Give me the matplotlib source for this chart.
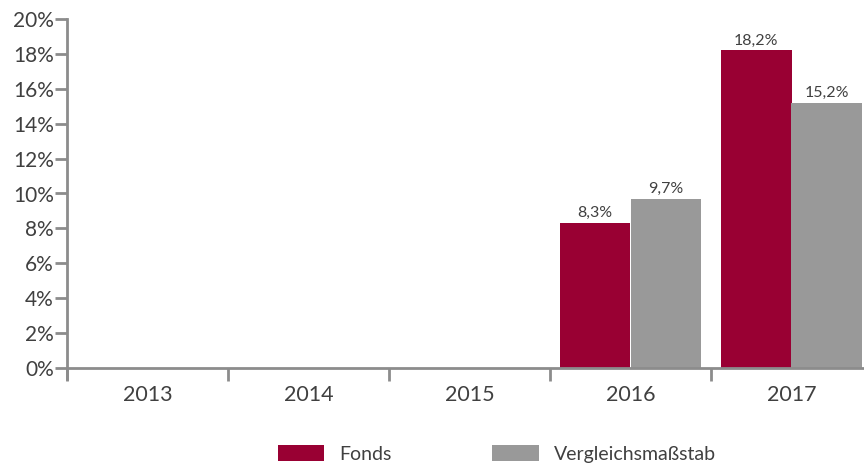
import numpy as np
import matplotlib
matplotlib.use("Agg")
import matplotlib.pyplot as plt
from matplotlib.patches import Patch

years = ["2013", "2014", "2015", "2016", "2017"]
fonds = [np.nan, np.nan, np.nan, 8.3, 18.2]
benchmark = [np.nan, np.nan, np.nan, 9.7, 15.2]
series_names = ["Fonds", "Vergleichsmaßstab"]
y_ticks = [0, 2, 4, 6, 8, 10, 12, 14, 16, 18, 20]

c_fonds = "#990033"
c_bench = "#999999"
c_text = "#404040"
c_axis = "#8c8c8c"

plt.rcParams["font.family"] = ["Lato", "DejaVu Sans"]

fig = plt.figure(figsize=(8.64, 4.69), dpi=100)
ax = fig.add_axes([67 / 864, 101 / 469, 805 / 864, 349 / 469])

x = np.arange(len(years))
w = 0.44
b1 = ax.bar(x - w / 2, fonds, width=w, color=c_fonds, linewidth=0,
            antialiased=False)
b2 = ax.bar(x + w / 2, benchmark, width=w, color=c_bench, linewidth=0,
            antialiased=False)

def fmt(v):
    return f"{v:.1f}%".replace(".", ",")

for bars, vals in ((b1, fonds), (b2, benchmark)):
    for rect, v in zip(bars, vals):
        if np.isnan(v):
            continue
        ax.annotate(fmt(v), (rect.get_x() + rect.get_width() / 2, v),
                    xytext=(0, 2), textcoords="offset points",
                    ha="center", va="bottom", fontsize=11.5, color=c_text)

ax.set_xlim(-0.5, len(years) - 0.5)
ax.set_ylim(0, 20)
ax.set_yticks(y_ticks)
ax.set_yticklabels([f"{t}%" for t in y_ticks])

ax.set_xticks(np.arange(len(years) + 1) - 0.5)
ax.set_xticklabels([])
ax.set_xticks(x, minor=True)
ax.set_xticklabels(years, minor=True)

for s in ("top", "right"):
    ax.spines[s].set_visible(False)
for s in ("left", "bottom"):
    ax.spines[s].set_color(c_axis)
    ax.spines[s].set_linewidth(2)
ax.spines["left"].set_bounds(-0.65, 20)

ax.tick_params(axis="y", length=9, width=2, color=c_axis, labelsize=15,
               labelcolor=c_text, pad=0.5)
ax.tick_params(axis="x", which="major", length=9, width=2, color=c_axis)
ax.tick_params(axis="x", which="minor", length=0, labelsize=15.5,
               labelcolor=c_text, pad=12)

handles = [Patch(color=c_fonds, linewidth=0), Patch(color=c_bench, linewidth=0)]
fig.legend(handles, series_names, loc="center", bbox_to_anchor=(0.575, 0.032),
           ncol=2, frameon=False, fontsize=14, labelcolor=c_text,
           handlelength=2.4, handleheight=0.85, handletextpad=0.75,
           columnspacing=5.2)

fig.savefig("out.png", dpi=100)
